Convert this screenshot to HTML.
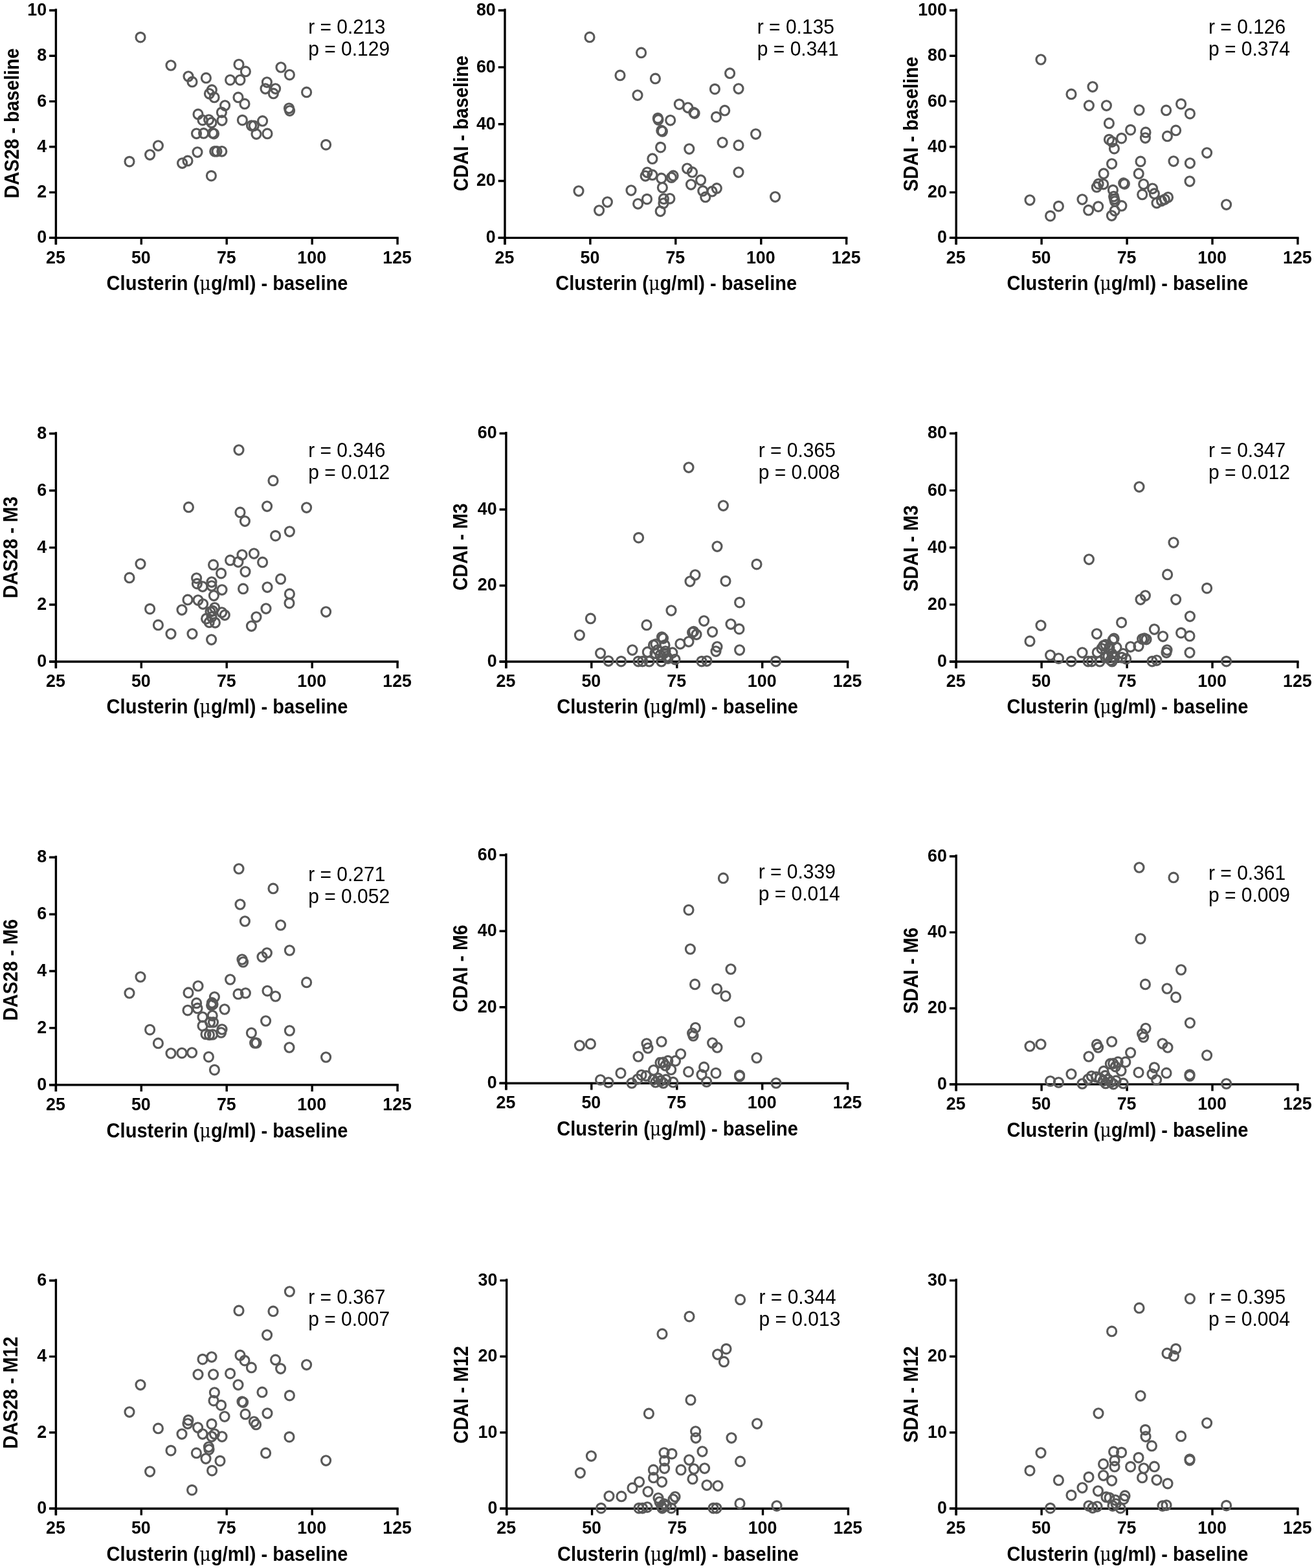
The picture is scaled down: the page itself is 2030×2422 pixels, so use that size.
<!DOCTYPE html>
<html><head><meta charset="utf-8"><title>Clusterin correlations</title>
<style>
html,body{margin:0;padding:0;background:#fff;width:2030px;height:2422px;overflow:hidden}
svg{display:block}
.a{stroke:#000;stroke-width:3.4px;fill:none;stroke-linecap:butt}
.tl{font-family:"Liberation Sans",Arial,sans-serif;font-weight:bold;font-size:26.8px;fill:#000}
.at{font-family:"Liberation Sans",Arial,sans-serif;font-weight:bold;font-size:30px;fill:#000}
.rp{font-family:"Liberation Sans",Arial,sans-serif;font-size:30px;fill:#000}
.mu{font-family:"DejaVu Serif",serif;font-weight:normal;font-size:28px}
.p ellipse{fill:none;stroke:#595959;stroke-width:3.15px}
</style></head>
<body>
<svg width="2030" height="2422" viewBox="0 0 2030 2422">
<path d="M86.4 13.4V377.7" class="a"/>
<path d="M76.1 367.4H615.8" class="a"/>
<text transform="translate(72.1 375.3) scale(1.0 1.03)" class="tl" text-anchor="end">0</text>
<text transform="translate(72.1 305) scale(1.0 1.03)" class="tl" text-anchor="end">2</text>
<text transform="translate(72.1 234.7) scale(1.0 1.03)" class="tl" text-anchor="end">4</text>
<text transform="translate(72.1 164.5) scale(1.0 1.03)" class="tl" text-anchor="end">6</text>
<text transform="translate(72.1 94.2) scale(1.0 1.03)" class="tl" text-anchor="end">8</text>
<text transform="translate(72.1 23.9) scale(1.0 1.03)" class="tl" text-anchor="end">10</text>
<text transform="translate(85.9 406.6) scale(1.0 1.03)" class="tl" text-anchor="middle">25</text>
<text transform="translate(217.8 406.6) scale(1.0 1.03)" class="tl" text-anchor="middle">50</text>
<text transform="translate(349.8 406.6) scale(1.0 1.03)" class="tl" text-anchor="middle">75</text>
<text transform="translate(481.7 406.6) scale(1.0 1.03)" class="tl" text-anchor="middle">100</text>
<text transform="translate(613.6 406.6) scale(1.0 1.03)" class="tl" text-anchor="middle">125</text>
<path d="M76.1 367.4H86.4M76.1 297.1H86.4M76.1 226.8H86.4M76.1 156.6H86.4M76.1 86.3H86.4M76.1 16H86.4M86.4 367.4V377.7M218.3 367.4V377.7M350.2 367.4V377.7M482.2 367.4V377.7M614.1 367.4V377.7" class="a"/>
<text transform="translate(351 447.6) scale(0.969 1.05)" class="at" text-anchor="middle">Clusterin (<tspan class="mu">μ</tspan>g/ml) - baseline</text>
<text transform="translate(28.5 190.6) rotate(-90) scale(0.953 1.05)" class="at" text-anchor="middle">DAS28 - baseline</text>
<text transform="translate(476.2 52.3) scale(1.0 1.07)" class="rp">r = 0.213</text>
<text transform="translate(476.2 86.3) scale(1.0 1.07)" class="rp">p = 0.129</text>
<g class="p"><ellipse cx="217" cy="57.6" rx="7" ry="7.3"/><ellipse cx="264" cy="101" rx="7" ry="7.3"/><ellipse cx="291" cy="118" rx="7" ry="7.3"/><ellipse cx="297" cy="126.4" rx="7" ry="7.3"/><ellipse cx="318.4" cy="120.4" rx="7" ry="7.3"/><ellipse cx="369" cy="99.6" rx="7" ry="7.3"/><ellipse cx="379.4" cy="110.4" rx="7" ry="7.3"/><ellipse cx="355.6" cy="123.6" rx="7" ry="7.3"/><ellipse cx="371" cy="123.6" rx="7" ry="7.3"/><ellipse cx="412.4" cy="127" rx="7" ry="7.3"/><ellipse cx="410" cy="137" rx="7" ry="7.3"/><ellipse cx="425.6" cy="137" rx="7" ry="7.3"/><ellipse cx="422.4" cy="144.4" rx="7" ry="7.3"/><ellipse cx="434" cy="104" rx="7" ry="7.3"/><ellipse cx="447.4" cy="115.6" rx="7" ry="7.3"/><ellipse cx="473.6" cy="142.4" rx="7" ry="7.3"/><ellipse cx="368" cy="150.4" rx="7" ry="7.3"/><ellipse cx="378" cy="160.4" rx="7" ry="7.3"/><ellipse cx="347.6" cy="163" rx="7" ry="7.3"/><ellipse cx="342.4" cy="173.6" rx="7" ry="7.3"/><ellipse cx="343" cy="186" rx="7" ry="7.3"/><ellipse cx="306" cy="176.4" rx="7" ry="7.3"/><ellipse cx="313" cy="185.6" rx="7" ry="7.3"/><ellipse cx="396" cy="207" rx="7" ry="7.3"/><ellipse cx="413" cy="206.4" rx="7" ry="7.3"/><ellipse cx="244.4" cy="225" rx="7" ry="7.3"/><ellipse cx="231.6" cy="239" rx="7" ry="7.3"/><ellipse cx="200" cy="249.6" rx="7" ry="7.3"/><ellipse cx="281.6" cy="252" rx="7" ry="7.3"/><ellipse cx="290" cy="248.4" rx="7" ry="7.3"/><ellipse cx="305" cy="235" rx="7" ry="7.3"/><ellipse cx="503.6" cy="223.6" rx="7" ry="7.3"/><ellipse cx="326.4" cy="271.6" rx="7" ry="7.3"/><ellipse cx="327.3" cy="138.9" rx="7" ry="7.3"/><ellipse cx="323.4" cy="144.8" rx="7" ry="7.3"/><ellipse cx="331.1" cy="150.4" rx="7" ry="7.3"/><ellipse cx="322.6" cy="185" rx="7" ry="7.3"/><ellipse cx="326.9" cy="189.4" rx="7" ry="7.3"/><ellipse cx="446.5" cy="167.3" rx="7" ry="7.3"/><ellipse cx="447.6" cy="171" rx="7" ry="7.3"/><ellipse cx="374.4" cy="185.6" rx="7" ry="7.3"/><ellipse cx="388.5" cy="194" rx="7" ry="7.3"/><ellipse cx="392.2" cy="194.3" rx="7" ry="7.3"/><ellipse cx="405.6" cy="186.9" rx="7" ry="7.3"/><ellipse cx="303.5" cy="206.3" rx="7" ry="7.3"/><ellipse cx="314.6" cy="205.9" rx="7" ry="7.3"/><ellipse cx="328.5" cy="205.5" rx="7" ry="7.3"/><ellipse cx="330.5" cy="206.5" rx="7" ry="7.3"/><ellipse cx="331.7" cy="233.8" rx="7" ry="7.3"/><ellipse cx="335" cy="233.8" rx="7" ry="7.3"/><ellipse cx="342.8" cy="233.8" rx="7" ry="7.3"/></g>
<path d="M780 13.4V377.7" class="a"/>
<path d="M769.7 367.4H1309.4" class="a"/>
<text transform="translate(765.7 375.3) scale(1.0 1.03)" class="tl" text-anchor="end">0</text>
<text transform="translate(765.7 287.4) scale(1.0 1.03)" class="tl" text-anchor="end">20</text>
<text transform="translate(765.7 199.6) scale(1.0 1.03)" class="tl" text-anchor="end">40</text>
<text transform="translate(765.7 111.8) scale(1.0 1.03)" class="tl" text-anchor="end">60</text>
<text transform="translate(765.7 23.9) scale(1.0 1.03)" class="tl" text-anchor="end">80</text>
<text transform="translate(779.5 406.6) scale(1.0 1.03)" class="tl" text-anchor="middle">25</text>
<text transform="translate(911.4 406.6) scale(1.0 1.03)" class="tl" text-anchor="middle">50</text>
<text transform="translate(1043.3 406.6) scale(1.0 1.03)" class="tl" text-anchor="middle">75</text>
<text transform="translate(1175.3 406.6) scale(1.0 1.03)" class="tl" text-anchor="middle">100</text>
<text transform="translate(1307.2 406.6) scale(1.0 1.03)" class="tl" text-anchor="middle">125</text>
<path d="M769.7 367.4H780M769.7 279.5H780M769.7 191.7H780M769.7 103.9H780M769.7 16H780M780 367.4V377.7M911.9 367.4V377.7M1043.8 367.4V377.7M1175.8 367.4V377.7M1307.7 367.4V377.7" class="a"/>
<text transform="translate(1044.7 447.6) scale(0.969 1.05)" class="at" text-anchor="middle">Clusterin (<tspan class="mu">μ</tspan>g/ml) - baseline</text>
<text transform="translate(722.9 190.6) rotate(-90) scale(0.953 1.05)" class="at" text-anchor="middle">CDAI - baseline</text>
<text transform="translate(1169.8 52.3) scale(1.0 1.07)" class="rp">r = 0.135</text>
<text transform="translate(1169.8 86.3) scale(1.0 1.07)" class="rp">p = 0.341</text>
<g class="p"><ellipse cx="911" cy="57.4" rx="7" ry="7.3"/><ellipse cx="990.6" cy="81.4" rx="7" ry="7.3"/><ellipse cx="958" cy="116.4" rx="7" ry="7.3"/><ellipse cx="1012.4" cy="121.4" rx="7" ry="7.3"/><ellipse cx="985" cy="147" rx="7" ry="7.3"/><ellipse cx="1127.6" cy="113.2" rx="7" ry="7.3"/><ellipse cx="1104.4" cy="137.6" rx="7" ry="7.3"/><ellipse cx="1141" cy="137" rx="7" ry="7.3"/><ellipse cx="1167.6" cy="207" rx="7" ry="7.3"/><ellipse cx="1141" cy="224.4" rx="7" ry="7.3"/><ellipse cx="1141" cy="266" rx="7" ry="7.3"/><ellipse cx="975" cy="294" rx="7" ry="7.3"/><ellipse cx="894" cy="295" rx="7" ry="7.3"/><ellipse cx="938.4" cy="312" rx="7" ry="7.3"/><ellipse cx="925.6" cy="325" rx="7" ry="7.3"/><ellipse cx="1197.6" cy="304" rx="7" ry="7.3"/><ellipse cx="1007.9" cy="245.2" rx="7" ry="7.3"/><ellipse cx="999.9" cy="266.3" rx="7" ry="7.3"/><ellipse cx="997.1" cy="271.8" rx="7" ry="7.3"/><ellipse cx="1007.9" cy="270.2" rx="7" ry="7.3"/><ellipse cx="1021.8" cy="275.4" rx="7" ry="7.3"/><ellipse cx="1040.1" cy="271.4" rx="7" ry="7.3"/><ellipse cx="1037.3" cy="274.2" rx="7" ry="7.3"/><ellipse cx="1023.4" cy="289.7" rx="7" ry="7.3"/><ellipse cx="1061.6" cy="260.3" rx="7" ry="7.3"/><ellipse cx="1069.5" cy="265.9" rx="7" ry="7.3"/><ellipse cx="1082.6" cy="278.2" rx="7" ry="7.3"/><ellipse cx="1067.5" cy="285" rx="7" ry="7.3"/><ellipse cx="1085.8" cy="294.9" rx="7" ry="7.3"/><ellipse cx="1089.8" cy="304.4" rx="7" ry="7.3"/><ellipse cx="1100.1" cy="295.7" rx="7" ry="7.3"/><ellipse cx="1107.3" cy="290.9" rx="7" ry="7.3"/><ellipse cx="999.5" cy="307.6" rx="7" ry="7.3"/><ellipse cx="985.6" cy="314.8" rx="7" ry="7.3"/><ellipse cx="1025.4" cy="307.2" rx="7" ry="7.3"/><ellipse cx="1025" cy="314" rx="7" ry="7.3"/><ellipse cx="1034.9" cy="306.8" rx="7" ry="7.3"/><ellipse cx="1020.2" cy="326.3" rx="7" ry="7.3"/><ellipse cx="1049.3" cy="161.1" rx="7" ry="7.3"/><ellipse cx="1062.8" cy="166.3" rx="7" ry="7.3"/><ellipse cx="1071.9" cy="173.9" rx="7" ry="7.3"/><ellipse cx="1073.1" cy="175.1" rx="7" ry="7.3"/><ellipse cx="1016.3" cy="182.6" rx="7" ry="7.3"/><ellipse cx="1017" cy="185" rx="7" ry="7.3"/><ellipse cx="1035.7" cy="185.8" rx="7" ry="7.3"/><ellipse cx="1021.8" cy="201.7" rx="7" ry="7.3"/><ellipse cx="1023.4" cy="202.9" rx="7" ry="7.3"/><ellipse cx="1106.5" cy="180.6" rx="7" ry="7.3"/><ellipse cx="1119.7" cy="170.7" rx="7" ry="7.3"/><ellipse cx="1116.1" cy="220" rx="7" ry="7.3"/><ellipse cx="1020.6" cy="227.6" rx="7" ry="7.3"/><ellipse cx="1064.8" cy="230" rx="7" ry="7.3"/></g>
<path d="M1477.2 13.4V377.7" class="a"/>
<path d="M1466.9 367.4H2006.6" class="a"/>
<text transform="translate(1462.9 375.3) scale(1.0 1.03)" class="tl" text-anchor="end">0</text>
<text transform="translate(1462.9 305) scale(1.0 1.03)" class="tl" text-anchor="end">20</text>
<text transform="translate(1462.9 234.7) scale(1.0 1.03)" class="tl" text-anchor="end">40</text>
<text transform="translate(1462.9 164.5) scale(1.0 1.03)" class="tl" text-anchor="end">60</text>
<text transform="translate(1462.9 94.2) scale(1.0 1.03)" class="tl" text-anchor="end">80</text>
<text transform="translate(1462.9 23.9) scale(1.0 1.03)" class="tl" text-anchor="end">100</text>
<text transform="translate(1476.7 406.6) scale(1.0 1.03)" class="tl" text-anchor="middle">25</text>
<text transform="translate(1608.6 406.6) scale(1.0 1.03)" class="tl" text-anchor="middle">50</text>
<text transform="translate(1740.6 406.6) scale(1.0 1.03)" class="tl" text-anchor="middle">75</text>
<text transform="translate(1872.5 406.6) scale(1.0 1.03)" class="tl" text-anchor="middle">100</text>
<text transform="translate(2004.4 406.6) scale(1.0 1.03)" class="tl" text-anchor="middle">125</text>
<path d="M1466.9 367.4H1477.2M1466.9 297.1H1477.2M1466.9 226.8H1477.2M1466.9 156.6H1477.2M1466.9 86.3H1477.2M1466.9 16H1477.2M1477.2 367.4V377.7M1609.1 367.4V377.7M1741.1 367.4V377.7M1873 367.4V377.7M2004.9 367.4V377.7" class="a"/>
<text transform="translate(1741.9 447.6) scale(0.969 1.05)" class="at" text-anchor="middle">Clusterin (<tspan class="mu">μ</tspan>g/ml) - baseline</text>
<text transform="translate(1417.7 191.7) rotate(-90) scale(0.953 1.05)" class="at" text-anchor="middle">SDAI - baseline</text>
<text transform="translate(1867 52.3) scale(1.0 1.07)" class="rp">r = 0.126</text>
<text transform="translate(1867 86.3) scale(1.0 1.07)" class="rp">p = 0.374</text>
<g class="p"><ellipse cx="1608" cy="92" rx="7" ry="7.3"/><ellipse cx="1688" cy="134" rx="7" ry="7.3"/><ellipse cx="1655" cy="145.4" rx="7" ry="7.3"/><ellipse cx="1682.4" cy="163" rx="7" ry="7.3"/><ellipse cx="1709.4" cy="163" rx="7" ry="7.3"/><ellipse cx="1760" cy="170" rx="7" ry="7.3"/><ellipse cx="1801.6" cy="170.4" rx="7" ry="7.3"/><ellipse cx="1824.6" cy="160.6" rx="7" ry="7.3"/><ellipse cx="1838.4" cy="175.6" rx="7" ry="7.3"/><ellipse cx="1713.4" cy="190.4" rx="7" ry="7.3"/><ellipse cx="1746.6" cy="200.6" rx="7" ry="7.3"/><ellipse cx="1770" cy="204.4" rx="7" ry="7.3"/><ellipse cx="1769.4" cy="213" rx="7" ry="7.3"/><ellipse cx="1816.6" cy="201.4" rx="7" ry="7.3"/><ellipse cx="1803.4" cy="210.4" rx="7" ry="7.3"/><ellipse cx="1713.4" cy="215.6" rx="7" ry="7.3"/><ellipse cx="1718" cy="219" rx="7" ry="7.3"/><ellipse cx="1732.6" cy="213.6" rx="7" ry="7.3"/><ellipse cx="1721.4" cy="229.6" rx="7" ry="7.3"/><ellipse cx="1864.6" cy="236" rx="7" ry="7.3"/><ellipse cx="1762" cy="249.4" rx="7" ry="7.3"/><ellipse cx="1813" cy="249" rx="7" ry="7.3"/><ellipse cx="1838.4" cy="252" rx="7" ry="7.3"/><ellipse cx="1717.6" cy="253" rx="7" ry="7.3"/><ellipse cx="1838" cy="280" rx="7" ry="7.3"/><ellipse cx="1672" cy="308" rx="7" ry="7.3"/><ellipse cx="1591" cy="309" rx="7" ry="7.3"/><ellipse cx="1635.4" cy="318.6" rx="7" ry="7.3"/><ellipse cx="1622.6" cy="333.6" rx="7" ry="7.3"/><ellipse cx="1894.6" cy="316" rx="7" ry="7.3"/><ellipse cx="1705.1" cy="268.2" rx="7" ry="7.3"/><ellipse cx="1697.1" cy="284.1" rx="7" ry="7.3"/><ellipse cx="1694.3" cy="288.9" rx="7" ry="7.3"/><ellipse cx="1704.7" cy="284.5" rx="7" ry="7.3"/><ellipse cx="1719.4" cy="293.6" rx="7" ry="7.3"/><ellipse cx="1735.7" cy="282.9" rx="7" ry="7.3"/><ellipse cx="1737.3" cy="284.1" rx="7" ry="7.3"/><ellipse cx="1720.6" cy="303.5" rx="7" ry="7.3"/><ellipse cx="1721.6" cy="307.5" rx="7" ry="7.3"/><ellipse cx="1722.4" cy="311" rx="7" ry="7.3"/><ellipse cx="1732.9" cy="317.9" rx="7" ry="7.3"/><ellipse cx="1722.2" cy="325.5" rx="7" ry="7.3"/><ellipse cx="1717.4" cy="333" rx="7" ry="7.3"/><ellipse cx="1696.7" cy="319.1" rx="7" ry="7.3"/><ellipse cx="1681.6" cy="324.7" rx="7" ry="7.3"/><ellipse cx="1759.2" cy="268.2" rx="7" ry="7.3"/><ellipse cx="1766.7" cy="284.5" rx="7" ry="7.3"/><ellipse cx="1764.7" cy="300.4" rx="7" ry="7.3"/><ellipse cx="1780.6" cy="291.3" rx="7" ry="7.3"/><ellipse cx="1783.4" cy="299.2" rx="7" ry="7.3"/><ellipse cx="1787" cy="313.5" rx="7" ry="7.3"/><ellipse cx="1794.5" cy="310.3" rx="7" ry="7.3"/><ellipse cx="1799.3" cy="308" rx="7" ry="7.3"/><ellipse cx="1804.5" cy="304.8" rx="7" ry="7.3"/></g>
<path d="M86.4 667.2V1032.3" class="a"/>
<path d="M76.1 1022H615.8" class="a"/>
<text transform="translate(72.1 1029.9) scale(1.0 1.03)" class="tl" text-anchor="end">0</text>
<text transform="translate(72.1 941.9) scale(1.0 1.03)" class="tl" text-anchor="end">2</text>
<text transform="translate(72.1 853.8) scale(1.0 1.03)" class="tl" text-anchor="end">4</text>
<text transform="translate(72.1 765.7) scale(1.0 1.03)" class="tl" text-anchor="end">6</text>
<text transform="translate(72.1 677.7) scale(1.0 1.03)" class="tl" text-anchor="end">8</text>
<text transform="translate(85.9 1061.2) scale(1.0 1.03)" class="tl" text-anchor="middle">25</text>
<text transform="translate(217.8 1061.2) scale(1.0 1.03)" class="tl" text-anchor="middle">50</text>
<text transform="translate(349.8 1061.2) scale(1.0 1.03)" class="tl" text-anchor="middle">75</text>
<text transform="translate(481.7 1061.2) scale(1.0 1.03)" class="tl" text-anchor="middle">100</text>
<text transform="translate(613.6 1061.2) scale(1.0 1.03)" class="tl" text-anchor="middle">125</text>
<path d="M76.1 1022H86.4M76.1 934H86.4M76.1 845.9H86.4M76.1 757.8H86.4M76.1 669.8H86.4M86.4 1022V1032.3M218.3 1022V1032.3M350.2 1022V1032.3M482.2 1022V1032.3M614.1 1022V1032.3" class="a"/>
<text transform="translate(351 1102) scale(0.969 1.05)" class="at" text-anchor="middle">Clusterin (<tspan class="mu">μ</tspan>g/ml) - baseline</text>
<text transform="translate(26.6 845.6) rotate(-90) scale(0.953 1.05)" class="at" text-anchor="middle">DAS28 - M3</text>
<text transform="translate(476.2 706.1) scale(1.0 1.07)" class="rp">r = 0.346</text>
<text transform="translate(476.2 740.1) scale(1.0 1.07)" class="rp">p = 0.012</text>
<g class="p"><ellipse cx="369" cy="695" rx="7" ry="7.3"/><ellipse cx="422" cy="742.4" rx="7" ry="7.3"/><ellipse cx="291.4" cy="783.4" rx="7" ry="7.3"/><ellipse cx="412.6" cy="782" rx="7" ry="7.3"/><ellipse cx="473.6" cy="784" rx="7" ry="7.3"/><ellipse cx="371" cy="791.4" rx="7" ry="7.3"/><ellipse cx="378.4" cy="805" rx="7" ry="7.3"/><ellipse cx="425.6" cy="827.6" rx="7" ry="7.3"/><ellipse cx="447.4" cy="821" rx="7" ry="7.3"/><ellipse cx="217" cy="871" rx="7" ry="7.3"/><ellipse cx="200" cy="892.4" rx="7" ry="7.3"/><ellipse cx="329.6" cy="872.4" rx="7" ry="7.3"/><ellipse cx="355.6" cy="865.4" rx="7" ry="7.3"/><ellipse cx="368" cy="868" rx="7" ry="7.3"/><ellipse cx="374" cy="857" rx="7" ry="7.3"/><ellipse cx="392.4" cy="855" rx="7" ry="7.3"/><ellipse cx="405.6" cy="868.4" rx="7" ry="7.3"/><ellipse cx="341.6" cy="885.6" rx="7" ry="7.3"/><ellipse cx="379" cy="883" rx="7" ry="7.3"/><ellipse cx="303.6" cy="893" rx="7" ry="7.3"/><ellipse cx="304.4" cy="901.6" rx="7" ry="7.3"/><ellipse cx="313" cy="906" rx="7" ry="7.3"/><ellipse cx="327" cy="899" rx="7" ry="7.3"/><ellipse cx="327" cy="905" rx="7" ry="7.3"/><ellipse cx="343" cy="911" rx="7" ry="7.3"/><ellipse cx="375.6" cy="909.4" rx="7" ry="7.3"/><ellipse cx="413" cy="907" rx="7" ry="7.3"/><ellipse cx="433.6" cy="894.4" rx="7" ry="7.3"/><ellipse cx="447.4" cy="917.4" rx="7" ry="7.3"/><ellipse cx="447" cy="931.6" rx="7" ry="7.3"/><ellipse cx="330.4" cy="920" rx="7" ry="7.3"/><ellipse cx="290" cy="926.4" rx="7" ry="7.3"/><ellipse cx="306" cy="927" rx="7" ry="7.3"/><ellipse cx="313.6" cy="933" rx="7" ry="7.3"/><ellipse cx="231.6" cy="940.6" rx="7" ry="7.3"/><ellipse cx="281" cy="942" rx="7" ry="7.3"/><ellipse cx="411" cy="940" rx="7" ry="7.3"/><ellipse cx="396" cy="953" rx="7" ry="7.3"/><ellipse cx="388.4" cy="967" rx="7" ry="7.3"/><ellipse cx="503.6" cy="945" rx="7" ry="7.3"/><ellipse cx="244.4" cy="965.4" rx="7" ry="7.3"/><ellipse cx="264" cy="979" rx="7" ry="7.3"/><ellipse cx="297" cy="979" rx="7" ry="7.3"/><ellipse cx="326.6" cy="988" rx="7" ry="7.3"/><ellipse cx="331.7" cy="938.8" rx="7" ry="7.3"/><ellipse cx="328.5" cy="943.5" rx="7" ry="7.3"/><ellipse cx="325" cy="945" rx="7" ry="7.3"/><ellipse cx="327" cy="953" rx="7" ry="7.3"/><ellipse cx="318.6" cy="955.7" rx="7" ry="7.3"/><ellipse cx="323.2" cy="961.3" rx="7" ry="7.3"/><ellipse cx="332.4" cy="961.8" rx="7" ry="7.3"/><ellipse cx="342.7" cy="946" rx="7" ry="7.3"/><ellipse cx="347.3" cy="950" rx="7" ry="7.3"/></g>
<path d="M781.9 666.9V1032.3" class="a"/>
<path d="M771.6 1022H1311.3" class="a"/>
<text transform="translate(767.6 1029.9) scale(1.0 1.03)" class="tl" text-anchor="end">0</text>
<text transform="translate(767.6 912.4) scale(1.0 1.03)" class="tl" text-anchor="end">20</text>
<text transform="translate(767.6 794.9) scale(1.0 1.03)" class="tl" text-anchor="end">40</text>
<text transform="translate(767.6 677.4) scale(1.0 1.03)" class="tl" text-anchor="end">60</text>
<text transform="translate(781.4 1061.2) scale(1.0 1.03)" class="tl" text-anchor="middle">25</text>
<text transform="translate(913.3 1061.2) scale(1.0 1.03)" class="tl" text-anchor="middle">50</text>
<text transform="translate(1045.2 1061.2) scale(1.0 1.03)" class="tl" text-anchor="middle">75</text>
<text transform="translate(1177.2 1061.2) scale(1.0 1.03)" class="tl" text-anchor="middle">100</text>
<text transform="translate(1309.1 1061.2) scale(1.0 1.03)" class="tl" text-anchor="middle">125</text>
<path d="M771.6 1022H781.9M771.6 904.5H781.9M771.6 787H781.9M771.6 669.5H781.9M781.9 1022V1032.3M913.8 1022V1032.3M1045.8 1022V1032.3M1177.7 1022V1032.3M1309.6 1022V1032.3" class="a"/>
<text transform="translate(1046.6 1102) scale(0.969 1.05)" class="at" text-anchor="middle">Clusterin (<tspan class="mu">μ</tspan>g/ml) - baseline</text>
<text transform="translate(722 844.8) rotate(-90) scale(0.953 1.05)" class="at" text-anchor="middle">CDAI - M3</text>
<text transform="translate(1171.7 705.8) scale(1.0 1.07)" class="rp">r = 0.365</text>
<text transform="translate(1171.7 739.8) scale(1.0 1.07)" class="rp">p = 0.008</text>
<g class="p"><ellipse cx="1064" cy="722" rx="7" ry="7.3"/><ellipse cx="1117.4" cy="781" rx="7" ry="7.3"/><ellipse cx="986.6" cy="830.6" rx="7" ry="7.3"/><ellipse cx="1108" cy="844" rx="7" ry="7.3"/><ellipse cx="1169" cy="871.6" rx="7" ry="7.3"/><ellipse cx="1074" cy="888" rx="7" ry="7.3"/><ellipse cx="1066" cy="898" rx="7" ry="7.3"/><ellipse cx="1121" cy="897.6" rx="7" ry="7.3"/><ellipse cx="1142.6" cy="930.6" rx="7" ry="7.3"/><ellipse cx="1037" cy="943" rx="7" ry="7.3"/><ellipse cx="912.4" cy="955.4" rx="7" ry="7.3"/><ellipse cx="999" cy="965.4" rx="7" ry="7.3"/><ellipse cx="1087.6" cy="959" rx="7" ry="7.3"/><ellipse cx="1129" cy="964" rx="7" ry="7.3"/><ellipse cx="1142" cy="971.6" rx="7" ry="7.3"/><ellipse cx="895.4" cy="981" rx="7" ry="7.3"/><ellipse cx="1100.6" cy="976" rx="7" ry="7.3"/><ellipse cx="1069.6" cy="977" rx="7" ry="7.3"/><ellipse cx="1071.6" cy="975.6" rx="7" ry="7.3"/><ellipse cx="1076" cy="980" rx="7" ry="7.3"/><ellipse cx="1064" cy="991" rx="7" ry="7.3"/><ellipse cx="1108" cy="999" rx="7" ry="7.3"/><ellipse cx="1106" cy="1006" rx="7" ry="7.3"/><ellipse cx="1142.6" cy="1004" rx="7" ry="7.3"/><ellipse cx="927.6" cy="1009" rx="7" ry="7.3"/><ellipse cx="977" cy="1004" rx="7" ry="7.3"/><ellipse cx="940" cy="1021" rx="7" ry="7.3"/><ellipse cx="959.6" cy="1021.6" rx="7" ry="7.3"/><ellipse cx="986" cy="1021.6" rx="7" ry="7.3"/><ellipse cx="992.6" cy="1021.6" rx="7" ry="7.3"/><ellipse cx="1084" cy="1021.6" rx="7" ry="7.3"/><ellipse cx="1092" cy="1021" rx="7" ry="7.3"/><ellipse cx="1198.6" cy="1021.6" rx="7" ry="7.3"/><ellipse cx="1022.5" cy="984" rx="7" ry="7.3"/><ellipse cx="1024.5" cy="986" rx="7" ry="7.3"/><ellipse cx="1009.5" cy="996.5" rx="7" ry="7.3"/><ellipse cx="1013" cy="995" rx="7" ry="7.3"/><ellipse cx="1027" cy="996.5" rx="7" ry="7.3"/><ellipse cx="1000.3" cy="1007.2" rx="7" ry="7.3"/><ellipse cx="1016" cy="1004" rx="7" ry="7.3"/><ellipse cx="1028" cy="1006" rx="7" ry="7.3"/><ellipse cx="1038.9" cy="1008.2" rx="7" ry="7.3"/><ellipse cx="1020" cy="1012" rx="7" ry="7.3"/><ellipse cx="1030" cy="1014" rx="7" ry="7.3"/><ellipse cx="1012" cy="1009" rx="7" ry="7.3"/><ellipse cx="1026" cy="1009" rx="7" ry="7.3"/><ellipse cx="1032" cy="1017" rx="7" ry="7.3"/><ellipse cx="1042.9" cy="1018.5" rx="7" ry="7.3"/><ellipse cx="1021.8" cy="1021.7" rx="7" ry="7.3"/><ellipse cx="1003" cy="1021.7" rx="7" ry="7.3"/><ellipse cx="1050.9" cy="994.5" rx="7" ry="7.3"/></g>
<path d="M1477.2 666.9V1032.3" class="a"/>
<path d="M1466.9 1022H2006.6" class="a"/>
<text transform="translate(1462.9 1029.9) scale(1.0 1.03)" class="tl" text-anchor="end">0</text>
<text transform="translate(1462.9 941.8) scale(1.0 1.03)" class="tl" text-anchor="end">20</text>
<text transform="translate(1462.9 853.6) scale(1.0 1.03)" class="tl" text-anchor="end">40</text>
<text transform="translate(1462.9 765.5) scale(1.0 1.03)" class="tl" text-anchor="end">60</text>
<text transform="translate(1462.9 677.4) scale(1.0 1.03)" class="tl" text-anchor="end">80</text>
<text transform="translate(1476.7 1061.2) scale(1.0 1.03)" class="tl" text-anchor="middle">25</text>
<text transform="translate(1608.6 1061.2) scale(1.0 1.03)" class="tl" text-anchor="middle">50</text>
<text transform="translate(1740.6 1061.2) scale(1.0 1.03)" class="tl" text-anchor="middle">75</text>
<text transform="translate(1872.5 1061.2) scale(1.0 1.03)" class="tl" text-anchor="middle">100</text>
<text transform="translate(2004.4 1061.2) scale(1.0 1.03)" class="tl" text-anchor="middle">125</text>
<path d="M1466.9 1022H1477.2M1466.9 933.9H1477.2M1466.9 845.8H1477.2M1466.9 757.6H1477.2M1466.9 669.5H1477.2M1477.2 1022V1032.3M1609.1 1022V1032.3M1741.1 1022V1032.3M1873 1022V1032.3M2004.9 1022V1032.3" class="a"/>
<text transform="translate(1741.9 1102) scale(0.969 1.05)" class="at" text-anchor="middle">Clusterin (<tspan class="mu">μ</tspan>g/ml) - baseline</text>
<text transform="translate(1417.9 847) rotate(-90) scale(0.953 1.05)" class="at" text-anchor="middle">SDAI - M3</text>
<text transform="translate(1867 705.8) scale(1.0 1.07)" class="rp">r = 0.347</text>
<text transform="translate(1867 739.8) scale(1.0 1.07)" class="rp">p = 0.012</text>
<g class="p"><ellipse cx="1760" cy="752" rx="7" ry="7.3"/><ellipse cx="1813" cy="838" rx="7" ry="7.3"/><ellipse cx="1682.4" cy="864" rx="7" ry="7.3"/><ellipse cx="1803.6" cy="887.4" rx="7" ry="7.3"/><ellipse cx="1864.6" cy="908.6" rx="7" ry="7.3"/><ellipse cx="1769.4" cy="920" rx="7" ry="7.3"/><ellipse cx="1762" cy="926" rx="7" ry="7.3"/><ellipse cx="1816.6" cy="926" rx="7" ry="7.3"/><ellipse cx="1838.4" cy="952" rx="7" ry="7.3"/><ellipse cx="1732.6" cy="961.6" rx="7" ry="7.3"/><ellipse cx="1608" cy="966" rx="7" ry="7.3"/><ellipse cx="1591" cy="990.4" rx="7" ry="7.3"/><ellipse cx="1694.4" cy="979" rx="7" ry="7.3"/><ellipse cx="1783.4" cy="972" rx="7" ry="7.3"/><ellipse cx="1796.6" cy="983" rx="7" ry="7.3"/><ellipse cx="1824.6" cy="977.6" rx="7" ry="7.3"/><ellipse cx="1838" cy="982.4" rx="7" ry="7.3"/><ellipse cx="1764.6" cy="987" rx="7" ry="7.3"/><ellipse cx="1768" cy="986" rx="7" ry="7.3"/><ellipse cx="1771" cy="987.6" rx="7" ry="7.3"/><ellipse cx="1746.6" cy="999" rx="7" ry="7.3"/><ellipse cx="1759" cy="998" rx="7" ry="7.3"/><ellipse cx="1803" cy="1004" rx="7" ry="7.3"/><ellipse cx="1802" cy="1008" rx="7" ry="7.3"/><ellipse cx="1838" cy="1008" rx="7" ry="7.3"/><ellipse cx="1622.6" cy="1012" rx="7" ry="7.3"/><ellipse cx="1672" cy="1008" rx="7" ry="7.3"/><ellipse cx="1635.4" cy="1017" rx="7" ry="7.3"/><ellipse cx="1655" cy="1021.6" rx="7" ry="7.3"/><ellipse cx="1681" cy="1021.6" rx="7" ry="7.3"/><ellipse cx="1686.6" cy="1021.6" rx="7" ry="7.3"/><ellipse cx="1780" cy="1021.6" rx="7" ry="7.3"/><ellipse cx="1787" cy="1020" rx="7" ry="7.3"/><ellipse cx="1894.6" cy="1021.6" rx="7" ry="7.3"/><ellipse cx="1707.9" cy="995.9" rx="7" ry="7.3"/><ellipse cx="1713.9" cy="999.8" rx="7" ry="7.3"/><ellipse cx="1701.9" cy="1001.8" rx="7" ry="7.3"/><ellipse cx="1721" cy="986.3" rx="7" ry="7.3"/><ellipse cx="1719" cy="988.7" rx="7" ry="7.3"/><ellipse cx="1704.7" cy="997.4" rx="7" ry="7.3"/><ellipse cx="1725" cy="1000.2" rx="7" ry="7.3"/><ellipse cx="1713.9" cy="1001.8" rx="7" ry="7.3"/><ellipse cx="1717.8" cy="1009.8" rx="7" ry="7.3"/><ellipse cx="1711.9" cy="1013.8" rx="7" ry="7.3"/><ellipse cx="1721.8" cy="1015.7" rx="7" ry="7.3"/><ellipse cx="1715.9" cy="1019.7" rx="7" ry="7.3"/><ellipse cx="1707.9" cy="1015.7" rx="7" ry="7.3"/><ellipse cx="1733" cy="1015.7" rx="7" ry="7.3"/><ellipse cx="1735" cy="1009.8" rx="7" ry="7.3"/><ellipse cx="1739.7" cy="1017.7" rx="7" ry="7.3"/><ellipse cx="1718" cy="1021.7" rx="7" ry="7.3"/><ellipse cx="1699.1" cy="1021.7" rx="7" ry="7.3"/><ellipse cx="1695.2" cy="1007.8" rx="7" ry="7.3"/></g>
<path d="M86.4 1321.7V1686.1" class="a"/>
<path d="M76.1 1675.8H615.8" class="a"/>
<text transform="translate(72.1 1683.7) scale(1.0 1.03)" class="tl" text-anchor="end">0</text>
<text transform="translate(72.1 1595.8) scale(1.0 1.03)" class="tl" text-anchor="end">2</text>
<text transform="translate(72.1 1508) scale(1.0 1.03)" class="tl" text-anchor="end">4</text>
<text transform="translate(72.1 1420.1) scale(1.0 1.03)" class="tl" text-anchor="end">6</text>
<text transform="translate(72.1 1332.2) scale(1.0 1.03)" class="tl" text-anchor="end">8</text>
<text transform="translate(85.9 1715) scale(1.0 1.03)" class="tl" text-anchor="middle">25</text>
<text transform="translate(217.8 1715) scale(1.0 1.03)" class="tl" text-anchor="middle">50</text>
<text transform="translate(349.8 1715) scale(1.0 1.03)" class="tl" text-anchor="middle">75</text>
<text transform="translate(481.7 1715) scale(1.0 1.03)" class="tl" text-anchor="middle">100</text>
<text transform="translate(613.6 1715) scale(1.0 1.03)" class="tl" text-anchor="middle">125</text>
<path d="M76.1 1675.8H86.4M76.1 1587.9H86.4M76.1 1500H86.4M76.1 1412.2H86.4M76.1 1324.3H86.4M86.4 1675.8V1686.1M218.3 1675.8V1686.1M350.2 1675.8V1686.1M482.2 1675.8V1686.1M614.1 1675.8V1686.1" class="a"/>
<text transform="translate(351 1756.5) scale(0.969 1.05)" class="at" text-anchor="middle">Clusterin (<tspan class="mu">μ</tspan>g/ml) - baseline</text>
<text transform="translate(26.6 1498.2) rotate(-90) scale(0.953 1.05)" class="at" text-anchor="middle">DAS28 - M6</text>
<text transform="translate(476.2 1360.6) scale(1.0 1.07)" class="rp">r = 0.271</text>
<text transform="translate(476.2 1394.6) scale(1.0 1.07)" class="rp">p = 0.052</text>
<g class="p"><ellipse cx="369" cy="1342" rx="7" ry="7.3"/><ellipse cx="422" cy="1372.4" rx="7" ry="7.3"/><ellipse cx="371" cy="1397" rx="7" ry="7.3"/><ellipse cx="378.4" cy="1423" rx="7" ry="7.3"/><ellipse cx="433.6" cy="1429" rx="7" ry="7.3"/><ellipse cx="447.4" cy="1468" rx="7" ry="7.3"/><ellipse cx="412.4" cy="1472" rx="7" ry="7.3"/><ellipse cx="405" cy="1478" rx="7" ry="7.3"/><ellipse cx="374" cy="1482" rx="7" ry="7.3"/><ellipse cx="375.6" cy="1486" rx="7" ry="7.3"/><ellipse cx="217" cy="1509" rx="7" ry="7.3"/><ellipse cx="355.6" cy="1513" rx="7" ry="7.3"/><ellipse cx="473.6" cy="1517.4" rx="7" ry="7.3"/><ellipse cx="200" cy="1534" rx="7" ry="7.3"/><ellipse cx="306" cy="1523" rx="7" ry="7.3"/><ellipse cx="291" cy="1533.4" rx="7" ry="7.3"/><ellipse cx="368" cy="1535.4" rx="7" ry="7.3"/><ellipse cx="379.4" cy="1534" rx="7" ry="7.3"/><ellipse cx="413" cy="1530.6" rx="7" ry="7.3"/><ellipse cx="425.6" cy="1539" rx="7" ry="7.3"/><ellipse cx="331.4" cy="1540" rx="7" ry="7.3"/><ellipse cx="303.6" cy="1549.4" rx="7" ry="7.3"/><ellipse cx="305" cy="1557.4" rx="7" ry="7.3"/><ellipse cx="290" cy="1560.6" rx="7" ry="7.3"/><ellipse cx="347" cy="1559" rx="7" ry="7.3"/><ellipse cx="313" cy="1571" rx="7" ry="7.3"/><ellipse cx="313" cy="1584.6" rx="7" ry="7.3"/><ellipse cx="343" cy="1590" rx="7" ry="7.3"/><ellipse cx="341.6" cy="1595" rx="7" ry="7.3"/><ellipse cx="318" cy="1597.4" rx="7" ry="7.3"/><ellipse cx="410.6" cy="1577" rx="7" ry="7.3"/><ellipse cx="447.4" cy="1592" rx="7" ry="7.3"/><ellipse cx="388.4" cy="1595.6" rx="7" ry="7.3"/><ellipse cx="393.6" cy="1611" rx="7" ry="7.3"/><ellipse cx="396" cy="1611" rx="7" ry="7.3"/><ellipse cx="231.6" cy="1590.6" rx="7" ry="7.3"/><ellipse cx="244.4" cy="1611.4" rx="7" ry="7.3"/><ellipse cx="264" cy="1627" rx="7" ry="7.3"/><ellipse cx="281" cy="1626.6" rx="7" ry="7.3"/><ellipse cx="296.6" cy="1626" rx="7" ry="7.3"/><ellipse cx="322.4" cy="1632.6" rx="7" ry="7.3"/><ellipse cx="447" cy="1618" rx="7" ry="7.3"/><ellipse cx="503.6" cy="1633" rx="7" ry="7.3"/><ellipse cx="331.4" cy="1652.6" rx="7" ry="7.3"/><ellipse cx="327.4" cy="1548.9" rx="7" ry="7.3"/><ellipse cx="329" cy="1551.3" rx="7" ry="7.3"/><ellipse cx="326.6" cy="1552.8" rx="7" ry="7.3"/><ellipse cx="328.2" cy="1568.8" rx="7" ry="7.3"/><ellipse cx="324.5" cy="1579" rx="7" ry="7.3"/><ellipse cx="329.5" cy="1579" rx="7" ry="7.3"/><ellipse cx="323.5" cy="1598.5" rx="7" ry="7.3"/><ellipse cx="328.5" cy="1598" rx="7" ry="7.3"/></g>
<path d="M781.9 1318.3V1683.5" class="a"/>
<path d="M771.6 1673.2H1311.3" class="a"/>
<text transform="translate(767.6 1681.1) scale(1.0 1.03)" class="tl" text-anchor="end">0</text>
<text transform="translate(767.6 1563.7) scale(1.0 1.03)" class="tl" text-anchor="end">20</text>
<text transform="translate(767.6 1446.2) scale(1.0 1.03)" class="tl" text-anchor="end">40</text>
<text transform="translate(767.6 1328.8) scale(1.0 1.03)" class="tl" text-anchor="end">60</text>
<text transform="translate(781.4 1712.4) scale(1.0 1.03)" class="tl" text-anchor="middle">25</text>
<text transform="translate(913.3 1712.4) scale(1.0 1.03)" class="tl" text-anchor="middle">50</text>
<text transform="translate(1045.2 1712.4) scale(1.0 1.03)" class="tl" text-anchor="middle">75</text>
<text transform="translate(1177.2 1712.4) scale(1.0 1.03)" class="tl" text-anchor="middle">100</text>
<text transform="translate(1309.1 1712.4) scale(1.0 1.03)" class="tl" text-anchor="middle">125</text>
<path d="M771.6 1673.2H781.9M771.6 1555.8H781.9M771.6 1438.3H781.9M771.6 1320.9H781.9M781.9 1673.2V1683.5M913.8 1673.2V1683.5M1045.8 1673.2V1683.5M1177.7 1673.2V1683.5M1309.6 1673.2V1683.5" class="a"/>
<text transform="translate(1046.6 1753.9) scale(0.969 1.05)" class="at" text-anchor="middle">Clusterin (<tspan class="mu">μ</tspan>g/ml) - baseline</text>
<text transform="translate(722 1495.9) rotate(-90) scale(0.953 1.05)" class="at" text-anchor="middle">CDAI - M6</text>
<text transform="translate(1171.7 1357.2) scale(1.0 1.07)" class="rp">r = 0.339</text>
<text transform="translate(1171.7 1391.2) scale(1.0 1.07)" class="rp">p = 0.014</text>
<g class="p"><ellipse cx="1117.4" cy="1356.4" rx="7" ry="7.3"/><ellipse cx="1064" cy="1405.6" rx="7" ry="7.3"/><ellipse cx="1066.4" cy="1466" rx="7" ry="7.3"/><ellipse cx="1129" cy="1497" rx="7" ry="7.3"/><ellipse cx="1073.6" cy="1520.4" rx="7" ry="7.3"/><ellipse cx="1107.6" cy="1527.6" rx="7" ry="7.3"/><ellipse cx="1121" cy="1538.6" rx="7" ry="7.3"/><ellipse cx="1142.6" cy="1578.6" rx="7" ry="7.3"/><ellipse cx="1074.4" cy="1587.6" rx="7" ry="7.3"/><ellipse cx="1069.6" cy="1596" rx="7" ry="7.3"/><ellipse cx="1071" cy="1600" rx="7" ry="7.3"/><ellipse cx="895.4" cy="1615" rx="7" ry="7.3"/><ellipse cx="912.4" cy="1612.4" rx="7" ry="7.3"/><ellipse cx="999" cy="1612" rx="7" ry="7.3"/><ellipse cx="1001" cy="1619" rx="7" ry="7.3"/><ellipse cx="1022" cy="1609" rx="7" ry="7.3"/><ellipse cx="1100.6" cy="1611" rx="7" ry="7.3"/><ellipse cx="1108" cy="1618" rx="7" ry="7.3"/><ellipse cx="986" cy="1632" rx="7" ry="7.3"/><ellipse cx="1051.6" cy="1628" rx="7" ry="7.3"/><ellipse cx="1169" cy="1634" rx="7" ry="7.3"/><ellipse cx="1087.6" cy="1648.4" rx="7" ry="7.3"/><ellipse cx="1063.6" cy="1655.6" rx="7" ry="7.3"/><ellipse cx="1084" cy="1660" rx="7" ry="7.3"/><ellipse cx="1106" cy="1657.6" rx="7" ry="7.3"/><ellipse cx="1142.6" cy="1661" rx="7" ry="7.3"/><ellipse cx="1142.6" cy="1662.4" rx="7" ry="7.3"/><ellipse cx="959" cy="1657.6" rx="7" ry="7.3"/><ellipse cx="927.6" cy="1668" rx="7" ry="7.3"/><ellipse cx="940" cy="1672" rx="7" ry="7.3"/><ellipse cx="976" cy="1673" rx="7" ry="7.3"/><ellipse cx="985" cy="1667" rx="7" ry="7.3"/><ellipse cx="1091.6" cy="1671" rx="7" ry="7.3"/><ellipse cx="1199" cy="1673" rx="7" ry="7.3"/><ellipse cx="1020" cy="1641.5" rx="7" ry="7.3"/><ellipse cx="1024.4" cy="1641.1" rx="7" ry="7.3"/><ellipse cx="1028" cy="1645.9" rx="7" ry="7.3"/><ellipse cx="1031.9" cy="1638.7" rx="7" ry="7.3"/><ellipse cx="1043.5" cy="1638.7" rx="7" ry="7.3"/><ellipse cx="1036.7" cy="1652.2" rx="7" ry="7.3"/><ellipse cx="991" cy="1660.6" rx="7" ry="7.3"/><ellipse cx="998.1" cy="1661.8" rx="7" ry="7.3"/><ellipse cx="1008.9" cy="1667.7" rx="7" ry="7.3"/><ellipse cx="1016.8" cy="1665.7" rx="7" ry="7.3"/><ellipse cx="1020.8" cy="1669.7" rx="7" ry="7.3"/><ellipse cx="1028.8" cy="1667.7" rx="7" ry="7.3"/><ellipse cx="1012.8" cy="1671.7" rx="7" ry="7.3"/><ellipse cx="1024.8" cy="1672.9" rx="7" ry="7.3"/><ellipse cx="1039.9" cy="1671.7" rx="7" ry="7.3"/><ellipse cx="1009.7" cy="1653" rx="7" ry="7.3"/></g>
<path d="M1477.2 1320.1V1685.2" class="a"/>
<path d="M1466.9 1674.9H2006.6" class="a"/>
<text transform="translate(1462.9 1682.8) scale(1.0 1.03)" class="tl" text-anchor="end">0</text>
<text transform="translate(1462.9 1565.4) scale(1.0 1.03)" class="tl" text-anchor="end">20</text>
<text transform="translate(1462.9 1448) scale(1.0 1.03)" class="tl" text-anchor="end">40</text>
<text transform="translate(1462.9 1330.6) scale(1.0 1.03)" class="tl" text-anchor="end">60</text>
<text transform="translate(1476.7 1714.1) scale(1.0 1.03)" class="tl" text-anchor="middle">25</text>
<text transform="translate(1608.6 1714.1) scale(1.0 1.03)" class="tl" text-anchor="middle">50</text>
<text transform="translate(1740.6 1714.1) scale(1.0 1.03)" class="tl" text-anchor="middle">75</text>
<text transform="translate(1872.5 1714.1) scale(1.0 1.03)" class="tl" text-anchor="middle">100</text>
<text transform="translate(2004.4 1714.1) scale(1.0 1.03)" class="tl" text-anchor="middle">125</text>
<path d="M1466.9 1674.9H1477.2M1466.9 1557.5H1477.2M1466.9 1440.1H1477.2M1466.9 1322.7H1477.2M1477.2 1674.9V1685.2M1609.1 1674.9V1685.2M1741.1 1674.9V1685.2M1873 1674.9V1685.2M2004.9 1674.9V1685.2" class="a"/>
<text transform="translate(1741.9 1755.6) scale(0.969 1.05)" class="at" text-anchor="middle">Clusterin (<tspan class="mu">μ</tspan>g/ml) - baseline</text>
<text transform="translate(1417.9 1499.3) rotate(-90) scale(0.953 1.05)" class="at" text-anchor="middle">SDAI - M6</text>
<text transform="translate(1867 1359) scale(1.0 1.07)" class="rp">r = 0.361</text>
<text transform="translate(1867 1393) scale(1.0 1.07)" class="rp">p = 0.009</text>
<g class="p"><ellipse cx="1760" cy="1340" rx="7" ry="7.3"/><ellipse cx="1813" cy="1355.4" rx="7" ry="7.3"/><ellipse cx="1762" cy="1450" rx="7" ry="7.3"/><ellipse cx="1824.6" cy="1498" rx="7" ry="7.3"/><ellipse cx="1769.4" cy="1520.4" rx="7" ry="7.3"/><ellipse cx="1803" cy="1527" rx="7" ry="7.3"/><ellipse cx="1816.6" cy="1540.4" rx="7" ry="7.3"/><ellipse cx="1838.4" cy="1580" rx="7" ry="7.3"/><ellipse cx="1770" cy="1588.6" rx="7" ry="7.3"/><ellipse cx="1764.6" cy="1597" rx="7" ry="7.3"/><ellipse cx="1766.6" cy="1602" rx="7" ry="7.3"/><ellipse cx="1591" cy="1616" rx="7" ry="7.3"/><ellipse cx="1608" cy="1613" rx="7" ry="7.3"/><ellipse cx="1694.4" cy="1613.4" rx="7" ry="7.3"/><ellipse cx="1696.6" cy="1618" rx="7" ry="7.3"/><ellipse cx="1717.6" cy="1609" rx="7" ry="7.3"/><ellipse cx="1796" cy="1612" rx="7" ry="7.3"/><ellipse cx="1804" cy="1618" rx="7" ry="7.3"/><ellipse cx="1682" cy="1632" rx="7" ry="7.3"/><ellipse cx="1746.6" cy="1626" rx="7" ry="7.3"/><ellipse cx="1864.6" cy="1630" rx="7" ry="7.3"/><ellipse cx="1783.4" cy="1649" rx="7" ry="7.3"/><ellipse cx="1759" cy="1656.6" rx="7" ry="7.3"/><ellipse cx="1780" cy="1659" rx="7" ry="7.3"/><ellipse cx="1802" cy="1657.4" rx="7" ry="7.3"/><ellipse cx="1838" cy="1660" rx="7" ry="7.3"/><ellipse cx="1838" cy="1662" rx="7" ry="7.3"/><ellipse cx="1655" cy="1659" rx="7" ry="7.3"/><ellipse cx="1622.6" cy="1670" rx="7" ry="7.3"/><ellipse cx="1635.4" cy="1672" rx="7" ry="7.3"/><ellipse cx="1672" cy="1674" rx="7" ry="7.3"/><ellipse cx="1681" cy="1667" rx="7" ry="7.3"/><ellipse cx="1786.6" cy="1668" rx="7" ry="7.3"/><ellipse cx="1894.6" cy="1674" rx="7" ry="7.3"/><ellipse cx="1715.3" cy="1643.2" rx="7" ry="7.3"/><ellipse cx="1719.7" cy="1642.8" rx="7" ry="7.3"/><ellipse cx="1723.3" cy="1647.6" rx="7" ry="7.3"/><ellipse cx="1727.2" cy="1640.4" rx="7" ry="7.3"/><ellipse cx="1738.8" cy="1640.4" rx="7" ry="7.3"/><ellipse cx="1732" cy="1653.9" rx="7" ry="7.3"/><ellipse cx="1686.3" cy="1662.3" rx="7" ry="7.3"/><ellipse cx="1693.4" cy="1663.5" rx="7" ry="7.3"/><ellipse cx="1704.2" cy="1669.4" rx="7" ry="7.3"/><ellipse cx="1712.1" cy="1667.4" rx="7" ry="7.3"/><ellipse cx="1716.1" cy="1671.4" rx="7" ry="7.3"/><ellipse cx="1724.1" cy="1669.4" rx="7" ry="7.3"/><ellipse cx="1708.1" cy="1673.4" rx="7" ry="7.3"/><ellipse cx="1720.1" cy="1674.6" rx="7" ry="7.3"/><ellipse cx="1735.2" cy="1673.4" rx="7" ry="7.3"/><ellipse cx="1705" cy="1654.7" rx="7" ry="7.3"/><ellipse cx="1699.3" cy="1665.7" rx="7" ry="7.3"/><ellipse cx="1707.3" cy="1661.7" rx="7" ry="7.3"/></g>
<path d="M86.4 1975.4V2340.5" class="a"/>
<path d="M76.1 2330.2H615.8" class="a"/>
<text transform="translate(72.1 2338.1) scale(1.0 1.03)" class="tl" text-anchor="end">0</text>
<text transform="translate(72.1 2220.7) scale(1.0 1.03)" class="tl" text-anchor="end">2</text>
<text transform="translate(72.1 2103.3) scale(1.0 1.03)" class="tl" text-anchor="end">4</text>
<text transform="translate(72.1 1985.9) scale(1.0 1.03)" class="tl" text-anchor="end">6</text>
<text transform="translate(85.9 2369.4) scale(1.0 1.03)" class="tl" text-anchor="middle">25</text>
<text transform="translate(217.8 2369.4) scale(1.0 1.03)" class="tl" text-anchor="middle">50</text>
<text transform="translate(349.8 2369.4) scale(1.0 1.03)" class="tl" text-anchor="middle">75</text>
<text transform="translate(481.7 2369.4) scale(1.0 1.03)" class="tl" text-anchor="middle">100</text>
<text transform="translate(613.6 2369.4) scale(1.0 1.03)" class="tl" text-anchor="middle">125</text>
<path d="M76.1 2330.2H86.4M76.1 2212.8H86.4M76.1 2095.4H86.4M76.1 1978H86.4M86.4 2330.2V2340.5M218.3 2330.2V2340.5M350.2 2330.2V2340.5M482.2 2330.2V2340.5M614.1 2330.2V2340.5" class="a"/>
<text transform="translate(351 2410.6) scale(0.969 1.05)" class="at" text-anchor="middle">Clusterin (<tspan class="mu">μ</tspan>g/ml) - baseline</text>
<text transform="translate(26.6 2151.3) rotate(-90) scale(0.953 1.05)" class="at" text-anchor="middle">DAS28 - M12</text>
<text transform="translate(476.2 2014.3) scale(1.0 1.07)" class="rp">r = 0.367</text>
<text transform="translate(476.2 2048.3) scale(1.0 1.07)" class="rp">p = 0.007</text>
<g class="p"><ellipse cx="447.4" cy="1995" rx="7" ry="7.3"/><ellipse cx="369" cy="2024.4" rx="7" ry="7.3"/><ellipse cx="422" cy="2025.4" rx="7" ry="7.3"/><ellipse cx="412.6" cy="2062" rx="7" ry="7.3"/><ellipse cx="371" cy="2093.4" rx="7" ry="7.3"/><ellipse cx="378" cy="2101.6" rx="7" ry="7.3"/><ellipse cx="388.4" cy="2112.4" rx="7" ry="7.3"/><ellipse cx="425.6" cy="2100.4" rx="7" ry="7.3"/><ellipse cx="433.6" cy="2114" rx="7" ry="7.3"/><ellipse cx="473.6" cy="2108" rx="7" ry="7.3"/><ellipse cx="313" cy="2099.6" rx="7" ry="7.3"/><ellipse cx="327" cy="2096" rx="7" ry="7.3"/><ellipse cx="306" cy="2123" rx="7" ry="7.3"/><ellipse cx="329.6" cy="2123" rx="7" ry="7.3"/><ellipse cx="355.6" cy="2121.6" rx="7" ry="7.3"/><ellipse cx="217" cy="2139" rx="7" ry="7.3"/><ellipse cx="368" cy="2139" rx="7" ry="7.3"/><ellipse cx="405" cy="2150.4" rx="7" ry="7.3"/><ellipse cx="447.4" cy="2155.6" rx="7" ry="7.3"/><ellipse cx="331.4" cy="2151" rx="7" ry="7.3"/><ellipse cx="330" cy="2163.6" rx="7" ry="7.3"/><ellipse cx="341.6" cy="2170.6" rx="7" ry="7.3"/><ellipse cx="374" cy="2165" rx="7" ry="7.3"/><ellipse cx="375.6" cy="2166" rx="7" ry="7.3"/><ellipse cx="200" cy="2181" rx="7" ry="7.3"/><ellipse cx="379" cy="2184.4" rx="7" ry="7.3"/><ellipse cx="413" cy="2183" rx="7" ry="7.3"/><ellipse cx="347" cy="2188" rx="7" ry="7.3"/><ellipse cx="392.4" cy="2196" rx="7" ry="7.3"/><ellipse cx="395.6" cy="2200.4" rx="7" ry="7.3"/><ellipse cx="291" cy="2193.6" rx="7" ry="7.3"/><ellipse cx="290" cy="2199" rx="7" ry="7.3"/><ellipse cx="327" cy="2199.6" rx="7" ry="7.3"/><ellipse cx="305.6" cy="2205" rx="7" ry="7.3"/><ellipse cx="244.4" cy="2206.4" rx="7" ry="7.3"/><ellipse cx="281" cy="2215" rx="7" ry="7.3"/><ellipse cx="313" cy="2215" rx="7" ry="7.3"/><ellipse cx="331.4" cy="2215" rx="7" ry="7.3"/><ellipse cx="327" cy="2219" rx="7" ry="7.3"/><ellipse cx="343" cy="2219" rx="7" ry="7.3"/><ellipse cx="447" cy="2219.6" rx="7" ry="7.3"/><ellipse cx="322.4" cy="2235" rx="7" ry="7.3"/><ellipse cx="323" cy="2239" rx="7" ry="7.3"/><ellipse cx="264" cy="2240.6" rx="7" ry="7.3"/><ellipse cx="303.4" cy="2244.4" rx="7" ry="7.3"/><ellipse cx="318" cy="2253" rx="7" ry="7.3"/><ellipse cx="410.6" cy="2244.4" rx="7" ry="7.3"/><ellipse cx="340" cy="2256.6" rx="7" ry="7.3"/><ellipse cx="503.6" cy="2256" rx="7" ry="7.3"/><ellipse cx="231.6" cy="2273" rx="7" ry="7.3"/><ellipse cx="327.6" cy="2271.6" rx="7" ry="7.3"/><ellipse cx="296.6" cy="2301.6" rx="7" ry="7.3"/></g>
<path d="M782.7 1975.3V2340.5" class="a"/>
<path d="M772.4 2330.2H1312.1" class="a"/>
<text transform="translate(768.4 2338.1) scale(1.0 1.03)" class="tl" text-anchor="end">0</text>
<text transform="translate(768.4 2220.7) scale(1.0 1.03)" class="tl" text-anchor="end">10</text>
<text transform="translate(768.4 2103.2) scale(1.0 1.03)" class="tl" text-anchor="end">20</text>
<text transform="translate(768.4 1985.8) scale(1.0 1.03)" class="tl" text-anchor="end">30</text>
<text transform="translate(782.2 2369.4) scale(1.0 1.03)" class="tl" text-anchor="middle">25</text>
<text transform="translate(914.1 2369.4) scale(1.0 1.03)" class="tl" text-anchor="middle">50</text>
<text transform="translate(1046.1 2369.4) scale(1.0 1.03)" class="tl" text-anchor="middle">75</text>
<text transform="translate(1178 2369.4) scale(1.0 1.03)" class="tl" text-anchor="middle">100</text>
<text transform="translate(1309.9 2369.4) scale(1.0 1.03)" class="tl" text-anchor="middle">125</text>
<path d="M772.4 2330.2H782.7M772.4 2212.8H782.7M772.4 2095.3H782.7M772.4 1977.9H782.7M782.7 2330.2V2340.5M914.6 2330.2V2340.5M1046.6 2330.2V2340.5M1178.5 2330.2V2340.5M1310.4 2330.2V2340.5" class="a"/>
<text transform="translate(1047.4 2410.6) scale(0.969 1.05)" class="at" text-anchor="middle">Clusterin (<tspan class="mu">μ</tspan>g/ml) - baseline</text>
<text transform="translate(722.9 2154.5) rotate(-90) scale(0.953 1.05)" class="at" text-anchor="middle">CDAI - M12</text>
<text transform="translate(1172.5 2014.2) scale(1.0 1.07)" class="rp">r = 0.344</text>
<text transform="translate(1172.5 2048.2) scale(1.0 1.07)" class="rp">p = 0.013</text>
<g class="p"><ellipse cx="1143.6" cy="2007.4" rx="7" ry="7.3"/><ellipse cx="1065" cy="2033.6" rx="7" ry="7.3"/><ellipse cx="1023" cy="2060.4" rx="7" ry="7.3"/><ellipse cx="1122" cy="2083.6" rx="7" ry="7.3"/><ellipse cx="1108.6" cy="2092" rx="7" ry="7.3"/><ellipse cx="1118.4" cy="2103.4" rx="7" ry="7.3"/><ellipse cx="1067" cy="2162.4" rx="7" ry="7.3"/><ellipse cx="1002.4" cy="2183.4" rx="7" ry="7.3"/><ellipse cx="1169.6" cy="2199" rx="7" ry="7.3"/><ellipse cx="1074.6" cy="2211" rx="7" ry="7.3"/><ellipse cx="1075" cy="2221" rx="7" ry="7.3"/><ellipse cx="1130" cy="2221" rx="7" ry="7.3"/><ellipse cx="1026" cy="2244" rx="7" ry="7.3"/><ellipse cx="1038" cy="2245.6" rx="7" ry="7.3"/><ellipse cx="1085" cy="2242" rx="7" ry="7.3"/><ellipse cx="913.4" cy="2249" rx="7" ry="7.3"/><ellipse cx="1026.6" cy="2256.4" rx="7" ry="7.3"/><ellipse cx="1064.6" cy="2255" rx="7" ry="7.3"/><ellipse cx="1143.6" cy="2257.4" rx="7" ry="7.3"/><ellipse cx="1009.4" cy="2270.4" rx="7" ry="7.3"/><ellipse cx="1026.6" cy="2268" rx="7" ry="7.3"/><ellipse cx="1052" cy="2270.4" rx="7" ry="7.3"/><ellipse cx="1072" cy="2269" rx="7" ry="7.3"/><ellipse cx="1088.6" cy="2268" rx="7" ry="7.3"/><ellipse cx="896.4" cy="2275" rx="7" ry="7.3"/><ellipse cx="1009.6" cy="2282.4" rx="7" ry="7.3"/><ellipse cx="1070" cy="2284.4" rx="7" ry="7.3"/><ellipse cx="1022.6" cy="2289" rx="7" ry="7.3"/><ellipse cx="987.6" cy="2289" rx="7" ry="7.3"/><ellipse cx="977" cy="2298.4" rx="7" ry="7.3"/><ellipse cx="1092" cy="2294" rx="7" ry="7.3"/><ellipse cx="1109" cy="2295" rx="7" ry="7.3"/><ellipse cx="1001" cy="2304" rx="7" ry="7.3"/><ellipse cx="941" cy="2311" rx="7" ry="7.3"/><ellipse cx="960" cy="2311.4" rx="7" ry="7.3"/><ellipse cx="1043" cy="2312" rx="7" ry="7.3"/><ellipse cx="1040" cy="2316" rx="7" ry="7.3"/><ellipse cx="1017" cy="2314" rx="7" ry="7.3"/><ellipse cx="1019" cy="2320" rx="7" ry="7.3"/><ellipse cx="1026" cy="2323" rx="7" ry="7.3"/><ellipse cx="1029.4" cy="2326" rx="7" ry="7.3"/><ellipse cx="1022" cy="2327" rx="7" ry="7.3"/><ellipse cx="1143" cy="2322.4" rx="7" ry="7.3"/><ellipse cx="1200" cy="2326" rx="7" ry="7.3"/><ellipse cx="928.6" cy="2329.6" rx="7" ry="7.3"/><ellipse cx="987" cy="2329.6" rx="7" ry="7.3"/><ellipse cx="992.6" cy="2329.6" rx="7" ry="7.3"/><ellipse cx="1000" cy="2328" rx="7" ry="7.3"/><ellipse cx="1023" cy="2329.6" rx="7" ry="7.3"/><ellipse cx="1037" cy="2329.6" rx="7" ry="7.3"/><ellipse cx="1102" cy="2329.6" rx="7" ry="7.3"/><ellipse cx="1107" cy="2329.6" rx="7" ry="7.3"/></g>
<path d="M1477.2 1975.3V2340.5" class="a"/>
<path d="M1466.9 2330.2H2006.6" class="a"/>
<text transform="translate(1462.9 2338.1) scale(1.0 1.03)" class="tl" text-anchor="end">0</text>
<text transform="translate(1462.9 2220.7) scale(1.0 1.03)" class="tl" text-anchor="end">10</text>
<text transform="translate(1462.9 2103.2) scale(1.0 1.03)" class="tl" text-anchor="end">20</text>
<text transform="translate(1462.9 1985.8) scale(1.0 1.03)" class="tl" text-anchor="end">30</text>
<text transform="translate(1476.7 2369.4) scale(1.0 1.03)" class="tl" text-anchor="middle">25</text>
<text transform="translate(1608.6 2369.4) scale(1.0 1.03)" class="tl" text-anchor="middle">50</text>
<text transform="translate(1740.6 2369.4) scale(1.0 1.03)" class="tl" text-anchor="middle">75</text>
<text transform="translate(1872.5 2369.4) scale(1.0 1.03)" class="tl" text-anchor="middle">100</text>
<text transform="translate(2004.4 2369.4) scale(1.0 1.03)" class="tl" text-anchor="middle">125</text>
<path d="M1466.9 2330.2H1477.2M1466.9 2212.8H1477.2M1466.9 2095.3H1477.2M1466.9 1977.9H1477.2M1477.2 2330.2V2340.5M1609.1 2330.2V2340.5M1741.1 2330.2V2340.5M1873 2330.2V2340.5M2004.9 2330.2V2340.5" class="a"/>
<text transform="translate(1741.9 2410.6) scale(0.969 1.05)" class="at" text-anchor="middle">Clusterin (<tspan class="mu">μ</tspan>g/ml) - baseline</text>
<text transform="translate(1417.9 2153.9) rotate(-90) scale(0.953 1.05)" class="at" text-anchor="middle">SDAI - M12</text>
<text transform="translate(1867 2014.2) scale(1.0 1.07)" class="rp">r = 0.395</text>
<text transform="translate(1867 2048.2) scale(1.0 1.07)" class="rp">p = 0.004</text>
<g class="p"><ellipse cx="1838.4" cy="2006" rx="7" ry="7.3"/><ellipse cx="1760" cy="2020.4" rx="7" ry="7.3"/><ellipse cx="1717.6" cy="2056.4" rx="7" ry="7.3"/><ellipse cx="1816.6" cy="2083.6" rx="7" ry="7.3"/><ellipse cx="1803" cy="2090.4" rx="7" ry="7.3"/><ellipse cx="1813.4" cy="2094.4" rx="7" ry="7.3"/><ellipse cx="1762" cy="2156" rx="7" ry="7.3"/><ellipse cx="1697" cy="2183" rx="7" ry="7.3"/><ellipse cx="1864.6" cy="2198" rx="7" ry="7.3"/><ellipse cx="1769.4" cy="2208.6" rx="7" ry="7.3"/><ellipse cx="1770" cy="2219" rx="7" ry="7.3"/><ellipse cx="1824.6" cy="2218.4" rx="7" ry="7.3"/><ellipse cx="1779.4" cy="2233.4" rx="7" ry="7.3"/><ellipse cx="1608" cy="2244" rx="7" ry="7.3"/><ellipse cx="1720.6" cy="2242.4" rx="7" ry="7.3"/><ellipse cx="1732.6" cy="2243.6" rx="7" ry="7.3"/><ellipse cx="1759" cy="2251.6" rx="7" ry="7.3"/><ellipse cx="1838" cy="2254" rx="7" ry="7.3"/><ellipse cx="1838" cy="2255.6" rx="7" ry="7.3"/><ellipse cx="1722" cy="2256" rx="7" ry="7.3"/><ellipse cx="1722" cy="2265.4" rx="7" ry="7.3"/><ellipse cx="1704.6" cy="2261.4" rx="7" ry="7.3"/><ellipse cx="1746.6" cy="2265.6" rx="7" ry="7.3"/><ellipse cx="1767" cy="2268" rx="7" ry="7.3"/><ellipse cx="1783.4" cy="2265.4" rx="7" ry="7.3"/><ellipse cx="1591" cy="2271.6" rx="7" ry="7.3"/><ellipse cx="1704.6" cy="2279" rx="7" ry="7.3"/><ellipse cx="1717.6" cy="2287" rx="7" ry="7.3"/><ellipse cx="1682" cy="2281.6" rx="7" ry="7.3"/><ellipse cx="1764.6" cy="2282.4" rx="7" ry="7.3"/><ellipse cx="1787" cy="2286" rx="7" ry="7.3"/><ellipse cx="1804" cy="2291.6" rx="7" ry="7.3"/><ellipse cx="1635.4" cy="2286.4" rx="7" ry="7.3"/><ellipse cx="1672" cy="2298" rx="7" ry="7.3"/><ellipse cx="1696.4" cy="2303" rx="7" ry="7.3"/><ellipse cx="1655" cy="2309.6" rx="7" ry="7.3"/><ellipse cx="1709" cy="2312.4" rx="7" ry="7.3"/><ellipse cx="1714" cy="2313.6" rx="7" ry="7.3"/><ellipse cx="1723" cy="2317" rx="7" ry="7.3"/><ellipse cx="1738" cy="2310.4" rx="7" ry="7.3"/><ellipse cx="1736" cy="2315.6" rx="7" ry="7.3"/><ellipse cx="1719" cy="2326" rx="7" ry="7.3"/><ellipse cx="1724" cy="2323" rx="7" ry="7.3"/><ellipse cx="1731" cy="2329.6" rx="7" ry="7.3"/><ellipse cx="1682" cy="2326" rx="7" ry="7.3"/><ellipse cx="1688" cy="2329" rx="7" ry="7.3"/><ellipse cx="1695" cy="2327" rx="7" ry="7.3"/><ellipse cx="1622.6" cy="2329.6" rx="7" ry="7.3"/><ellipse cx="1796" cy="2326" rx="7" ry="7.3"/><ellipse cx="1802" cy="2325" rx="7" ry="7.3"/><ellipse cx="1894.6" cy="2325.6" rx="7" ry="7.3"/></g>
</svg>
</body></html>
